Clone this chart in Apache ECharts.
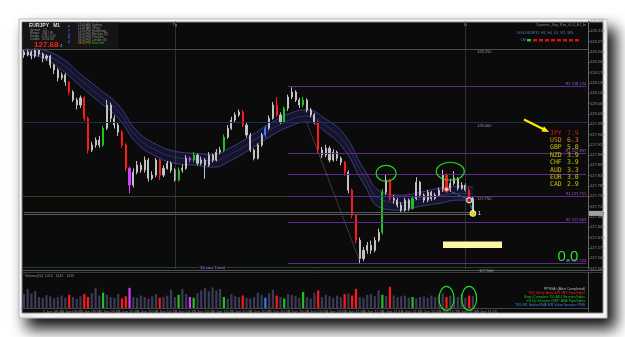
<!DOCTYPE html>
<html><head><meta charset="utf-8">
<script src="https://cdn.jsdelivr.net/npm/echarts@6/dist/echarts.min.js"></script>
<style>html,body{margin:0;padding:0;background:#fff;}#c{width:625px;height:337px;}</style>
</head><body><div id="c"></div>
<script>
// ---------------- data ----------------
const firstOpen = 128.24;
const closes = [128.23,128.24,128.226,128.247,128.233,128.219,128.226,128.196,128.179,128.152,
128.162,128.138,128.104,128.077,128.06,128.084,128.015,127.907,127.924,127.941,
127.924,127.981,128.06,128.015,127.992,127.968,127.924,127.845,127.788,127.832,
127.856,127.839,127.873,127.811,127.822,127.873,127.822,127.845,127.862,127.839,
127.805,127.839,127.845,127.879,127.873,127.89,127.862,127.873,127.856,127.89,
127.873,127.9,127.907,127.951,127.981,128.009,128.026,128.036,127.992,127.958,
127.907,127.879,127.924,127.958,127.981,128.015,128.06,128.026,128.002,128.049,
128.087,128.104,128.077,128.06,128.077,128.043,128.026,128.002,127.907,127.89,
127.913,127.873,127.9,127.879,127.866,127.832,127.771,127.686,127.601,127.539,
127.567,127.584,127.567,127.601,127.628,127.764,127.805,127.743,127.737,127.72,
127.703,127.737,127.709,127.743,127.798,127.754,127.737,127.764,127.743,127.754,
127.771,127.822,127.771,127.794,127.811,127.777,127.788,127.771,127.743,127.692];
const highs = [128.25,128.252,128.245,128.255,128.25,128.238,128.232,128.23,128.2,128.185,
128.17,128.168,128.14,128.11,128.085,128.092,128.09,128.02,127.935,127.95,
127.955,127.99,128.077,128.068,128.025,128.0,127.975,127.93,127.85,127.845,
127.87,127.865,127.885,127.88,127.835,127.88,127.878,127.855,127.87,127.868,
127.845,127.848,127.858,127.89,127.885,127.9,127.895,127.885,127.88,127.9,
127.895,127.91,127.918,127.96,127.992,128.02,128.035,128.045,128.043,128.0,
127.965,127.912,127.93,127.965,127.99,128.025,128.07,128.087,128.035,128.055,
128.095,128.12,128.11,128.085,128.087,128.082,128.05,128.033,128.008,127.918,
127.925,127.92,127.91,127.905,127.885,127.87,127.838,127.775,127.69,127.61,
127.578,127.595,127.6,127.612,127.64,127.775,127.825,127.81,127.755,127.745,
127.73,127.745,127.742,127.752,127.815,127.802,127.76,127.772,127.768,127.762,
127.78,127.84,127.828,127.81,127.835,127.815,127.798,127.795,127.778,127.748];
const lows = [128.22,128.225,128.215,128.22,128.225,128.205,128.21,128.185,128.165,128.14,
128.145,128.125,128.095,128.07,128.045,128.05,128.005,127.895,127.9,127.915,
127.915,127.918,127.975,128.0,127.98,127.955,127.915,127.835,127.76,127.78,
127.825,127.83,127.83,127.8,127.805,127.815,127.805,127.815,127.84,127.83,
127.8,127.8,127.83,127.84,127.865,127.865,127.855,127.855,127.81,127.85,
127.865,127.868,127.893,127.9,127.945,127.975,128.0,128.02,127.985,127.95,
127.9,127.872,127.875,127.918,127.95,127.975,128.01,128.02,127.995,127.998,
128.04,128.08,128.07,128.05,128.052,128.035,128.018,127.995,127.895,127.88,
127.883,127.865,127.868,127.87,127.855,127.82,127.76,127.675,127.59,127.522,
127.53,127.555,127.555,127.56,127.595,127.62,127.755,127.735,127.725,127.712,
127.695,127.698,127.7,127.705,127.738,127.745,127.728,127.73,127.735,127.738,
127.748,127.765,127.762,127.765,127.788,127.77,127.772,127.765,127.735,127.685];
const volumes = [38,52,40,46,30,28,35,32,26,30, 34,28,36,30,25,32,38,30,40,55,
34,42,36,30,28,38,26,32,55,30, 28,34,30,26,32,38,28,30,34,50,
30,36,52,38,30,28,40,48,54,46, 56,48,52,30,26,38,32,30,34,28,
26,30,42,36,28,40,50,34,30,26, 38,36,32,28,44,30,26,42,48,30,
36,32,28,34,30,38,40,34,52,30, 28,36,38,32,48,36,32,58,34,30,
32,34,28,30,26,30,32,28,34,30, 36,40,30,34,26,30,38,28,34,32];
const ribbonIdx = [0,5,10,15,20,25,30,35,40,45,50,55,60,65,70,75,80,85,90,95,100,105,110,115,119];
const ribbonTop = [128.26,128.247,128.219,128.165,128.114,128.06,127.971,127.927,127.903,127.896,127.893,127.917,127.954,127.995,128.029,128.043,128.012,127.958,127.845,127.764,127.754,127.764,127.777,127.784,127.781];
const ribbonMid = [128.247,128.233,128.199,128.145,128.092,128.038,127.951,127.907,127.883,127.876,127.871,127.895,127.932,127.973,128.007,128.022,127.99,127.933,127.82,127.737,127.729,127.74,127.752,127.76,127.759];
const ribbonBot = [128.233,128.219,128.179,128.124,128.07,128.015,127.93,127.886,127.862,127.856,127.849,127.873,127.91,127.951,127.985,128.002,127.968,127.907,127.794,127.709,127.703,127.716,127.726,127.737,127.737];
const pivotNames = ['R2','R1','PP','S1','S2','S3'];
const pivotLevels = [128.124,127.897,127.826,127.751,127.663,127.524];
const roundLevels = [128.25,128.0,127.75];
const trendLevel = 127.508;
const currencies = ['JPY','USD','GBP','NZD','CHF','AUD','EUR','CAD'];
const strength = [7.9,6.3,5.0,3.9,3.9,3.3,3.0,2.9];
const timeLabels = ['5 Jan 09:35','5 Jan 09:40','5 Jan 09:45','5 Jan 09:50','5 Jan 09:55','5 Jan 10:00','5 Jan 10:05','5 Jan 10:10','5 Jan 10:15','5 Jan 10:20','5 Jan 10:25','5 Jan 10:30','5 Jan 10:35','5 Jan 10:40','5 Jan 10:45','5 Jan 10:50','5 Jan 10:55','5 Jan 11:00','5 Jan 11:05','5 Jan 11:10','5 Jan 11:15','5 Jan 11:20','5 Jan 11:25','5 Jan 11:30','5 Jan 11:35'];
const markerIdx = [112,118,119];
const markerPrice = [127.774,127.737,127.692];
const diagIdx = [75,89];
const diagPrice = [128.0,127.53];
const currentPrice = 127.692;
const bidAsk = [127.696,127.688];
const TOTAL = 150;

// ---------------- styling helpers ----------------
const RED='#ff1a1a', GREEN='#1fc21f', MAG='#d040ff', BLUE='#2f7fff';
const redSet=[12,16,17,26,27,36,58,67,78,85,87,88,97,112,118];
const greenSet=[21,41,45,53,69,74,95,103];
const magSet=[28,44], blueSet=[64];
function colorFor(i, def){
  if(redSet.includes(i)) return RED;
  if(greenSet.includes(i)) return GREEN;
  if(magSet.includes(i)) return MAG;
  if(blueSet.includes(i)) return BLUE;
  return def;
}
const cats = Array.from({length:TOTAL},(_,i)=>String(i));
const candleData = closes.map((c,i)=>{
  const o = i===0 ? firstOpen : closes[i-1];
  const col = colorFor(i,'#c2c2c2');
  return {value:[o,c,lows[i],highs[i]], itemStyle:{color:col,color0:col,borderColor:col,borderColor0:col}};
});
const volData = volumes.map((v,i)=>({value:v,itemStyle:{color:colorFor(i,'#3b3b56')}}));

const chart = echarts.init(document.getElementById('c'));
const roundColors = ['#4a4a4a','#1f2d58','#4a381c'];
const markLines = [];
roundLevels.forEach((p,k)=>markLines.push({yAxis:p, lineStyle:{color:roundColors[k],width:1,type:'solid'}, label:{show:false}}));
markLines.push({yAxis:trendLevel, lineStyle:{color:'#1d4a1d',width:1,type:'solid'}, label:{show:false}});
bidAsk.forEach(p=>markLines.push([{coord:[0,p],lineStyle:{color:'#5a5a5a',width:1,type:'solid'},label:{show:false}},{coord:[119,p]}]));
pivotLevels.forEach((p,k)=>markLines.push([{name:pivotNames[k],coord:[70,p],lineStyle:{color:'#5e2a8e',width:1,type:'solid'},
  label:{show:k!==2,position:'insideEndTop',distance:0,fontSize:4,color:'#9a5ad8',formatter:pivotNames[k]+' '+p.toFixed(3)}},{coord:[149,p]}]));
markLines.push({xAxis:40, lineStyle:{color:'#555',width:1,type:'dotted'}, label:{show:false}});
markLines.push({xAxis:117, lineStyle:{color:'#555',width:1,type:'dotted'}, label:{show:false}});

const ribLine = {color:'#4a4a94',width:0.8};
const option = {
  animation:false,
  backgroundColor:'#ffffff',
  grid:[{left:22,top:21,width:566,height:247.5},{left:22,top:286,width:566,height:22}],
  xAxis:[
    {type:'category',gridIndex:0,data:cats,boundaryGap:true,show:false},
    {type:'category',gridIndex:1,data:cats,boundaryGap:true,
      axisLine:{lineStyle:{color:'#444'}},axisTick:{show:false},
      axisLabel:{interval:4,fontSize:4,color:'#8a8a8a',margin:2,align:'left',
        formatter:(v,idx)=>timeLabels[Math.round(idx/5)]||''}}
  ],
  yAxis:[
    {type:'value',gridIndex:0,position:'right',min:127.505,max:128.345,interval:0.035,
      axisLine:{show:true,lineStyle:{color:'#666'}},axisTick:{show:true,length:2,lineStyle:{color:'#666'}},
      axisLabel:{fontSize:4,color:'#8c8c8c',margin:2,formatter:v=>v.toFixed(3)},splitLine:{show:false}},
    {type:'value',gridIndex:1,position:'right',min:0,max:60,
      axisLine:{show:true,lineStyle:{color:'#666'}},axisTick:{show:false},axisLabel:{show:false},splitLine:{show:false}}
  ],
  series:[
    {type:'line',xAxisIndex:0,yAxisIndex:0,z:1,smooth:true,symbol:'none',
      data:ribbonIdx.map((c,k)=>[c,ribbonTop[k]]),lineStyle:ribLine,
      areaStyle:{color:'#14142c',opacity:1,origin:'start'}},
    {type:'line',xAxisIndex:0,yAxisIndex:0,z:1,smooth:true,symbol:'none',
      data:ribbonIdx.map((c,k)=>[c,ribbonBot[k]]),lineStyle:ribLine,
      areaStyle:{color:'#0b0b0b',opacity:1,origin:'start'}},
    {type:'line',xAxisIndex:0,yAxisIndex:0,z:2,smooth:true,symbol:'none',
      data:ribbonIdx.map((c,k)=>[c,ribbonMid[k]]),lineStyle:{color:'#3a3a78',width:0.7}},
    {type:'candlestick',xAxisIndex:0,yAxisIndex:0,z:3,barWidth:1.6,data:candleData,
      markLine:{silent:true,symbol:['none','none'],animation:false,data:markLines}},
    {type:'line',xAxisIndex:0,yAxisIndex:0,z:4,symbol:'none',
      data:diagIdx.map((c,k)=>[c,diagPrice[k]]),lineStyle:{color:'#6a6a6a',width:1,type:'dotted'}},
    {type:'line',xAxisIndex:0,yAxisIndex:0,z:4,symbol:'none',
      data:markerIdx.map((c,k)=>[c,markerPrice[k]]),lineStyle:{color:'#2a8080',width:1,type:'dashed'}},
    {type:'scatter',xAxisIndex:0,yAxisIndex:0,z:5,data:[
      {value:[markerIdx[0],markerPrice[0]],symbol:'diamond',symbolSize:6,itemStyle:{color:'#fff',borderColor:'#e02020',borderWidth:1.5}},
      {value:[markerIdx[1],markerPrice[1]],symbol:'circle',symbolSize:5,itemStyle:{color:'#c01010',borderColor:'#fff',borderWidth:1.2}},
      {value:[markerIdx[2],markerPrice[2]],symbol:'circle',symbolSize:6,itemStyle:{color:'#ffee00',borderColor:'#fff',borderWidth:1}}]},
    {type:'bar',xAxisIndex:1,yAxisIndex:1,z:3,barWidth:2.2,data:volData}
  ]
};
chart.setOption(option);

// ---------------- overlays ----------------
function T(x,y,text,fill,font,align,valign,extra){
  return Object.assign({type:'text',x:x,y:y,z:60,silent:true,style:Object.assign({text:text,fill:fill,font:font,
    textAlign:align||'left',align:align||'left',textVerticalAlign:valign||'middle',verticalAlign:valign||'middle'},extra||{})});
}
const P = (c,v)=>chart.convertToPixel({xAxisIndex:0,yAxisIndex:0},[c,v]);
const V = (c,v)=>chart.convertToPixel({xAxisIndex:1,yAxisIndex:1},[c,v]);
const els = [];
els.push({type:'rect',z:-20,silent:true,shape:{x:19,y:19,width:588,height:299},
  style:{fill:'#fafafa',stroke:'#bbb',lineWidth:1,shadowBlur:14,shadowOffsetX:8,shadowOffsetY:10,shadowColor:'rgba(0,0,0,0.95)'}});
els.push({type:'rect',z:-19,silent:true,shape:{x:22,y:22,width:581,height:291},style:{fill:'#0b0b0b',stroke:'#8a8a8a',lineWidth:1}});
els.push({type:'line',z:40,silent:true,shape:{x1:22,y1:270.5,x2:603,y2:270.5},style:{stroke:'#555',lineWidth:1}});
els.push({type:'line',z:40,silent:true,shape:{x1:22,y1:272.5,x2:603,y2:272.5},style:{stroke:'#3a3a3a',lineWidth:1}});
els.push({type:'line',z:40,silent:true,shape:{x1:588.5,y1:272,x2:588.5,y2:313},style:{stroke:'#555',lineWidth:1}});
els.push({type:'rect',z:30,silent:true,shape:{x:22.5,y:22.5,width:96,height:26},style:{fill:'#151515'}});
els.push(T(29,26,'EURJPY   M1','#dddddd','bold 5px Arial'));
['Spread:   2.0','Range:   106 / 98','Swaps: -1.35 / 0.10','Candle:  00:00:38'].forEach((s,k)=>els.push(T(30,30.5+k*3,s,'#8f8f8f','3px Arial')));
els.push(T(34,44.5,'127.68','#ff2020','bold 8px Arial'));
els.push(T(60,45.5,'4','#bbbbbb','4px Arial'));
['P','Y','O','R','A'].forEach((s,k)=>els.push(T(69,27+k*3.8,s,'#3355cc','bold 3.5px Arial','center')));
const sessT=['10:00 AM','11:00 AM','12:00 PM','01:00 PM','02:00 PM','03:00 PM','08:00 PM'];
const sessN=['Sydney','Tokyo','HongKong','Moscow (S)','Frankfurt','London (S)','NewYork'];
sessT.forEach((s,k)=>{const last=k===6;
  els.push(T(78,25.5+k*2.9,s,last?'#d08a20':'#8f8f8f','3px Arial'));
  els.push(T(92,25.5+k*2.9,sessN[k],last?'#20c020':'#8f8f8f','3px Arial'));});
els.push(T(586,25,'Dynamic_Sup_Res_v1.4_EJ_br','#8a8a8a','3.5px Arial','right'));
els.push(T(573,33,'00:00 M5/M15  H1  H4  D1  W1  MN','#5a7abf','3.5px Arial','right'));
els.push(T(526,40,'CM','#5a7abf','3.5px Arial','right'));
for(let k=0;k<9;k++) els.push({type:'rect',z:60,silent:true,shape:{x:527+k*6,y:39,width:4,height:2.4},style:{fill:k===0?'#22cc22':'#dd1111'}});
els.push(T(P(40,128)[0],25,'Tg','#b0a020','4px Arial','center'));
els.push(T(P(117,128)[0],25,'Lt','#b0a020','4px Arial','center'));
roundLevels.forEach((p,k)=>{const q=P(122,p); els.push(T(q[0],q[1]+3,p.toFixed(3),'#9a9a9a','4px Arial','center'));});
{const q=P(122,trendLevel); els.push(T(q[0]+2,q[1]+3,'127.500','#9a9a9a','4px Arial','center'));}
{const q=P(50,trendLevel); els.push(T(q[0],q[1],'30 sma Trend','#8a8ad8','4px Arial','center','middle',{backgroundColor:'#12121e',padding:[0,2]}));}
{const q=P(149,currentPrice); els.push({type:'rect',z:61,silent:true,shape:{x:589,y:q[1]-2.5,width:14,height:5},style:{fill:'#a0a0a0'}});
 els.push(T(590,q[1],currentPrice.toFixed(3),'#111','4px Arial','left','middle',{}));}
{const q=P(markerIdx[2],markerPrice[2]); els.push(T(q[0]+5,q[1],'1','#ffffff','5px Arial'));}
[[96,127.828,10,8],[113,127.835,14,9]].forEach(e=>{const q=P(e[0],e[1]);
  els.push({type:'ellipse',z:62,silent:true,shape:{cx:q[0],cy:q[1],rx:e[2],ry:e[3]},style:{fill:'none',stroke:'#22dd22',lineWidth:1.2}});});
[[112,26],[118,26]].forEach(e=>{const q=V(e[0],e[1]);
  els.push({type:'ellipse',z:62,silent:true,shape:{cx:q[0],cy:q[1],rx:7.5,ry:12},style:{fill:'none',stroke:'#22dd22',lineWidth:1.2}});});
currencies.forEach((c,k)=>{const col=k===0?'#e01010':(k===1?'#d88a10':'#c8c000');
  els.push(T(550,133+k*7.4,c,col,'6.5px "DejaVu Sans Mono"'));
  els.push(T(567,133+k*7.4,strength[k].toFixed(1),col,'6.5px "DejaVu Sans Mono"'));});
els.push({type:'polyline',z:62,silent:true,shape:{points:[[524,119.5],[544,129.5]]},style:{stroke:'#ffee00',lineWidth:2}});
els.push({type:'polygon',z:62,silent:true,shape:{points:[[549,132],[541.4,131.6],[544,126.2]]},style:{fill:'#ffee00'}});
els.push(T(568,257,'0.0','#33dd33','15px Arial','center'));
els.push({type:'rect',z:61,silent:true,shape:{x:443,y:241.5,width:59,height:6.5},style:{fill:'#fbf7a6'}});
els.push(T(472.5,244.8,'S1: 7415  avg: 9464  R2: 9455','#333','3.5px Arial','center'));
els.push(T(25,276.5,'Volume(20)  1413   1445   1413','#8f8f8f','3.5px Arial'));
const legT=['PPSSA: (Alert Completed)','TKD Value Area S/R 1NY Pips/Index','Stop (Complete 1% ADJ Session/Index','Vol Up Session CMP: ASA Pips/Index','TKD M1 Status NVA S/R Value Session PMS'];
const legC=['#bbbbbb','#ff2020','#20c020','#20c020','#4080ff'];
legT.forEach((s,k)=>els.push(T(585,289+k*4,s,legC[k],'3.5px Arial','right')));
chart.setOption({graphic:{elements:els}});
</script></body></html>
